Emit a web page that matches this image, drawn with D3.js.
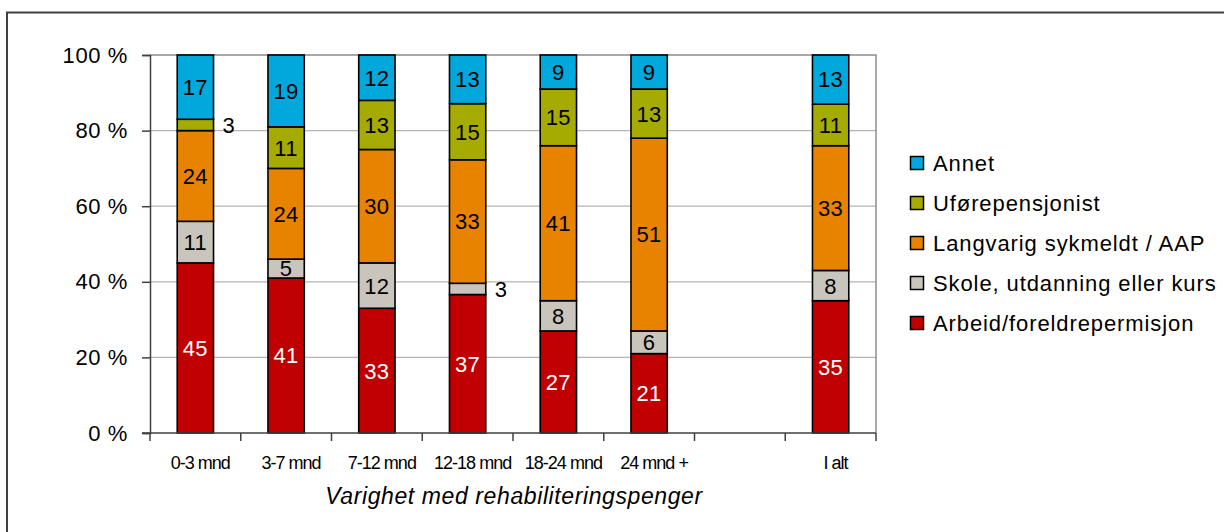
<!DOCTYPE html>
<html>
<head>
<meta charset="utf-8">
<script src="https://cdn.jsdelivr.net/npm/d3@7"></script>
<style>
  body { margin: 0; background: #fff; }
  svg { display: block; font-family: "Liberation Sans", Arial, sans-serif; }
</style>
</head>
<body>
<svg id="chart" width="1224" height="532"></svg>
<script>
// categories ("" = empty slot before the total)
var categories = ["0-3 mnd", "3-7 mnd", "7-12 mnd", "12-18 mnd", "18-24 mnd", "24 mnd +", "", "I alt"];
// series, bottom to top
var seriesNames = ["Arbeid/foreldrepermisjon", "Skole, utdanning eller kurs", "Langvarig sykmeldt / AAP", "Uførepensjonist", "Annet"];
var seriesColors = ["#c00000", "#c9c5bd", "#e88300", "#a5ab00", "#00a8dc"];
var arbeid    = [45, 41, 33, 37, 27, 21, null, 35];
var skole     = [11, 5, 12, 3, 8, 6, null, 8];
var langvarig = [24, 24, 30, 33, 41, 51, null, 33];
var ufore     = [3, 11, 13, 15, 15, 13, null, 11];
var annet     = [17, 19, 12, 13, 9, 9, null, 13];
var yTicks = [0, 0.2, 0.4, 0.6, 0.8, 1];
var xTitle = "Varighet med rehabiliteringspenger";

var seriesValues = [arbeid, skole, langvarig, ufore, annet];
var rows = [];
categories.forEach(function(c, i) {
    if (arbeid[i] == null) return;
    var r = { cat: c };
    seriesNames.forEach(function(s, k) { r[s] = seriesValues[k][i]; });
    rows.push(r);
});

var svg = d3.select("#chart");

// outer chart frame (runs off the page right and bottom)
svg.append("rect")
    .attr("x", 7).attr("y", 12.5)
    .attr("width", 1400).attr("height", 700)
    .attr("fill", "none").attr("stroke", "#404040").attr("stroke-width", 2);

var pLeft = 150, pRight = 876, pTop = 55, pBottom = 433;

var x = d3.scaleBand().domain(categories).range([pLeft, pRight]).paddingInner(0.6).paddingOuter(0.3);
var y = d3.scaleLinear().domain([0, 1]).range([pBottom, pTop]);

// gridlines
svg.append("g").selectAll("line")
    .data(yTicks.filter(function(d) { return d > 0 && d < 1; }))
    .enter().append("line")
    .attr("x1", pLeft).attr("x2", pRight)
    .attr("y1", function(d) { return y(d); }).attr("y2", function(d) { return y(d); })
    .attr("stroke", "#b4b4b4").attr("stroke-width", 1.2);

// plot frame top + right
svg.append("path")
    .attr("d", "M" + pLeft + "," + y(1) + "H" + pRight + "V" + pBottom)
    .attr("fill", "none").attr("stroke", "#8c8c8c").attr("stroke-width", 1.5);

var stack = d3.stack().keys(seriesNames).offset(d3.stackOffsetExpand);
var layers = stack(rows);

var g = svg.append("g");
layers.forEach(function(layer, k) {
    g.append("g").selectAll("rect")
        .data(layer)
        .enter().append("rect")
        .attr("x", function(d) { return x(d.data.cat); })
        .attr("width", x.bandwidth())
        .attr("y", function(d) { return y(d[1]); })
        .attr("height", function(d) { return y(d[0]) - y(d[1]); })
        .attr("fill", seriesColors[k])
        .attr("stroke", "#000").attr("stroke-width", 1.6);
});

// value labels
layers.forEach(function(layer, k) {
    g.append("g").selectAll("text")
        .data(layer)
        .enter().append("text")
        .attr("x", function(d) {
            var v = d.data[layer.key];
            return v < 5 ? x(d.data.cat) + x.bandwidth() + 9 : x(d.data.cat) + x.bandwidth() / 2;
        })
        .attr("y", function(d) { return y((d[0] + d[1]) / 2); })
        .attr("dy", "0.36em")
        .attr("text-anchor", function(d) { return d.data[layer.key] < 5 ? "start" : "middle"; })
        .attr("font-size", 22)
        .attr("letter-spacing", 0.5)
        .attr("fill", function(d) { return k == 0 && d.data[layer.key] >= 5 ? "#fff" : "#000"; })
        .text(function(d) { return d.data[layer.key]; });
});

// y axis
var yAxis = svg.append("g")
    .attr("transform", "translate(" + pLeft + ",0)")
    .call(d3.axisLeft(y).tickValues(yTicks).tickSize(8).tickPadding(14)
        .tickFormat(function(d) { return Math.round(d * 100) + " %"; }));
yAxis.selectAll("text").attr("font-size", 22).attr("letter-spacing", 0.6)
    .attr("font-family", "Liberation Sans, Arial, sans-serif").attr("fill", "#000");
yAxis.selectAll("line").attr("stroke", "#404040").attr("stroke-width", 1.5);
yAxis.select(".domain").attr("stroke", "#404040").attr("stroke-width", 1.5);

// x axis: line, ticks between categories, labels at centers
svg.append("line")
    .attr("x1", pLeft - 8).attr("x2", pRight)
    .attr("y1", pBottom).attr("y2", pBottom)
    .attr("stroke", "#404040").attr("stroke-width", 1.5);
var step = x.step();
svg.append("g").selectAll("line")
    .data(d3.range(categories.length + 1))
    .enter().append("line")
    .attr("x1", function(i) { return pLeft + i * step; })
    .attr("x2", function(i) { return pLeft + i * step; })
    .attr("y1", pBottom).attr("y2", pBottom + 8)
    .attr("stroke", "#404040").attr("stroke-width", 1.5);
svg.append("g").selectAll("text")
    .data(categories)
    .enter().append("text")
    .attr("x", function(c) { return x(c) + x.bandwidth() / 2 + 5; })
    .attr("y", 469)
    .attr("text-anchor", "middle")
    .attr("font-size", 18)
    .attr("letter-spacing", -1)
    .text(function(c) { return c; });

svg.append("text")
    .attr("x", 514).attr("y", 504)
    .attr("text-anchor", "middle")
    .attr("font-style", "italic")
    .attr("font-size", 23)
    .attr("letter-spacing", 0.6)
    .text(xTitle);

// legend (top series first)
var legend = svg.append("g").attr("transform", "translate(910,163)");
var legendItems = seriesNames.slice().reverse();
var li = legend.selectAll("g").data(legendItems).enter().append("g")
    .attr("transform", function(d, i) { return "translate(0," + i * 40 + ")"; });
li.append("rect")
    .attr("x", 0.5).attr("y", -6.5).attr("width", 13).attr("height", 13)
    .attr("fill", function(d) { return seriesColors[seriesNames.indexOf(d)]; })
    .attr("stroke", "#000").attr("stroke-width", 1.5);
li.append("text")
    .attr("x", 23).attr("dy", "0.36em")
    .attr("font-size", 22)
    .attr("letter-spacing", 0.9)
    .text(function(d) { return d; });
</script>
</body>
</html>
